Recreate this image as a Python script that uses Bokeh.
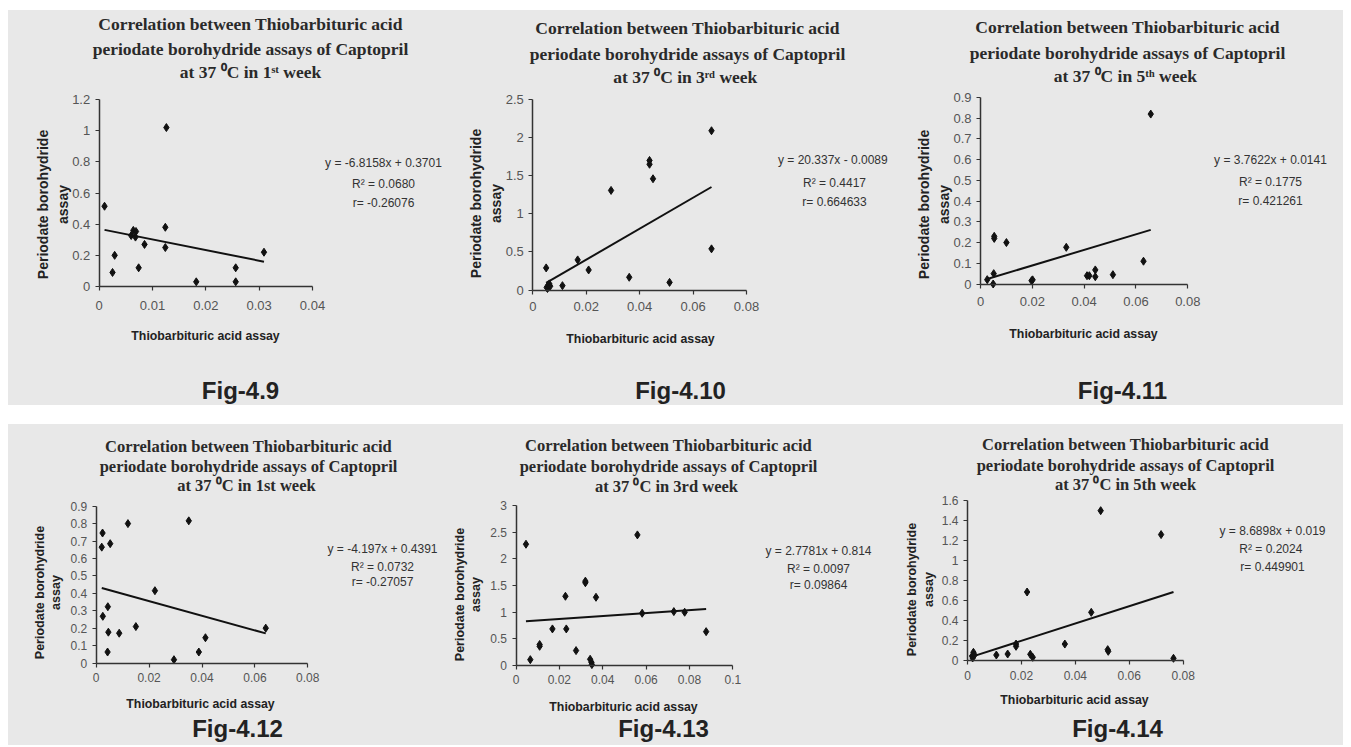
import numpy as np
from bokeh.plotting import figure
from bokeh.models import Range1d, FixedTicker, CustomJSTickFormatter, Spacer
from bokeh.layouts import row, column
from bokeh.core.properties import value
from bokeh.embed import file_html
from bokeh.resources import INLINE

# ---------------- data ----------------
x1 = [0.0010, 0.0126, 0.0029, 0.0025, 0.0060, 0.0064, 0.0069, 0.0068, 0.0074, 0.0085, 0.0124, 0.0124, 0.0182, 0.0256, 0.0256, 0.0309]
y1 = [0.515, 1.02, 0.20, 0.09, 0.327, 0.36, 0.353, 0.317, 0.12, 0.27, 0.38, 0.25, 0.03, 0.12, 0.03, 0.22]

x2 = [0.0050, 0.0052, 0.0055, 0.0059, 0.0062, 0.0065, 0.0111, 0.0168, 0.0209, 0.0293, 0.0361, 0.0437, 0.0437, 0.0450, 0.0512, 0.0669, 0.0669]
y2 = [0.29, 0.035, 0.02, 0.066, 0.08, 0.05, 0.057, 0.395, 0.263, 1.307, 0.167, 1.65, 1.70, 1.46, 0.10, 2.09, 0.54]

x3 = [0.0026, 0.0049, 0.0051, 0.0053, 0.0053, 0.0100, 0.0197, 0.0201, 0.0331, 0.0411, 0.0420, 0.0443, 0.0443, 0.0511, 0.0629, 0.0657]
y3 = [0.021, 0.0, 0.05, 0.23, 0.22, 0.20, 0.016, 0.02, 0.177, 0.04, 0.04, 0.068, 0.035, 0.045, 0.11, 0.82]

x4 = [0.0024, 0.0021, 0.0053, 0.0120, 0.0350, 0.0044, 0.0025, 0.0046, 0.0043, 0.0087, 0.0150, 0.0222, 0.0294, 0.0388, 0.0413, 0.0641]
y4 = [0.746, 0.665, 0.685, 0.80, 0.816, 0.323, 0.268, 0.177, 0.063, 0.171, 0.209, 0.415, 0.019, 0.063, 0.145, 0.20]

x5 = [0.0046, 0.0066, 0.0109, 0.0109, 0.0168, 0.0228, 0.0232, 0.0277, 0.0320, 0.0320, 0.0342, 0.0348, 0.0350, 0.0369, 0.0560, 0.0582, 0.0728, 0.0778, 0.0877]
y5 = [2.273, 0.106, 0.357, 0.39, 0.683, 1.296, 0.683, 0.276, 1.55, 1.58, 0.113, 0.056, 0.013, 1.277, 2.448, 0.977, 1.008, 0.996, 0.632]

x6 = [0.0017, 0.0019, 0.0022, 0.0026, 0.0107, 0.0149, 0.0180, 0.0180, 0.0221, 0.0233, 0.0242, 0.0361, 0.0459, 0.0494, 0.0520, 0.0522, 0.0718, 0.0764]
y6 = [0.04, 0.02, 0.077, 0.05, 0.05, 0.06, 0.137, 0.16, 0.682, 0.057, 0.027, 0.16, 0.478, 1.498, 0.104, 0.087, 1.258, 0.017]

slopes = [-6.8158, 20.337, 3.7622, -4.197, 2.7781, 8.6898]
intercepts = [0.3701, -0.0089, 0.0141, 0.4391, 0.814, 0.019]

x_ticks = [
    [0, 0.01, 0.02, 0.03, 0.04],
    [0, 0.02, 0.04, 0.06, 0.08],
    [0, 0.02, 0.04, 0.06, 0.08],
    [0, 0.02, 0.04, 0.06, 0.08],
    [0, 0.02, 0.04, 0.06, 0.08, 0.1],
    [0, 0.02, 0.04, 0.06, 0.08],
]
y_ticks = [
    [0, 0.2, 0.4, 0.6, 0.8, 1, 1.2],
    [0, 0.5, 1, 1.5, 2, 2.5],
    [0, 0.1, 0.2, 0.3, 0.4, 0.5, 0.6, 0.7, 0.8, 0.9],
    [0, 0.1, 0.2, 0.3, 0.4, 0.5, 0.6, 0.7, 0.8, 0.9],
    [0, 0.5, 1, 1.5, 2, 2.5, 3],
    [0, 0.2, 0.4, 0.6, 0.8, 1, 1.2, 1.4, 1.6],
]

title_line1 = "Correlation between Thiobarbituric acid"
title_line2 = "periodate borohydride assays of Captopril"
title_line3 = [
    "at 37 \u2070C in 1\u02e2\u1d57 week",
    "at 37 \u2070C in 3\u02b3\u1d48  week",
    "at 37 \u2070C in 5\u1d57\u02b0  week",
    "at 37 \u2070C in 1st  week",
    "at 37 \u2070C in 3rd  week",
    "at 37 \u2070C in 5th week",
]
eq_texts = ["y = -6.8158x + 0.3701", "y =  20.337x - 0.0089", "y = 3.7622x + 0.0141",
            "y = -4.197x + 0.4391", "y = 2.7781x + 0.814", "y = 8.6898x + 0.019"]
r2_texts = ["R\u00b2 = 0.0680", "R\u00b2 = 0.4417", "R\u00b2 = 0.1775",
            "R\u00b2 = 0.0732", "R\u00b2 = 0.0097", "R\u00b2 =  0.2024"]
r_texts = ["r= -0.26076", "r= 0.664633", "r= 0.421261", "r= -0.27057", "r= 0.09864", "r= 0.449901"]
fig_labels = ["Fig-4.9", "Fig-4.10", "Fig-4.11", "Fig-4.12", "Fig-4.13", "Fig-4.14"]
x_title = "Thiobarbituric acid assay"
y_title = "Periodate borohydride\nassay"

xs = [x1, x2, x3, x4, x5, x6]
ys = [y1, y2, y3, y4, y5, y6]

# ---------------- layout geometry (page pixels) ----------------
BG = "#e8e8e8"
TOP_H, BOT_H = 395, 321
fig_geo = [(8, 10, 442, TOP_H), (450, 10, 448, TOP_H), (898, 10, 445, TOP_H),
           (8, 424, 442, BOT_H), (450, 424, 448, BOT_H), (898, 424, 445, BOT_H)]
# pixel position of data origin (X0, Y0) and of (xmax, ymax) -> (X1, Y1)
axis_geo = [(98.7, 286.0, 312.0, 99.0), (532.3, 289.5, 746.0, 99.0), (980.0, 283.5, 1187.3, 97.0),
            (95.7, 662.5, 307.3, 505.7), (515.5, 664.8, 732.3, 505.0), (967.0, 659.5, 1182.7, 500.0)]
title_pos = [(250, (23, 48, 71)), (687, (27, 53, 76)), (1127, (26, 52, 75)),
             (248, (446, 466, 485)), (668, (445, 466, 486)), (1125, (444, 465, 484))]
eq_pos = [(383, (162, 183, 202)), (834, (159, 182, 201)), (1270, (159, 181, 200)),
          (382, (548, 566, 581)), (818, (550, 568, 584)), (1272, (530, 548, 566))]
xtitle_pos = [(205, 335), (640, 338), (1083, 333), (200, 703), (623, 706), (1074, 699)]
ytitle_pos = [(52.5, 204), (485.5, 203), (933.5, 204), (47.5, 592), (467.5, 594), (920, 589)]
figlab_pos = [(240, 390), (680, 390), (1122, 390), (237, 728), (663, 728), (1117, 728)]
xtick_standoff = [10, 8, 9, 6, 6, 7]


figs = []
for i in range(6):
    fx, fy, fw, fh = fig_geo[i]
    X0, Y0, X1, Y1 = axis_geo[i]
    xmax, ymax = x_ticks[i][-1], y_ticks[i][-1]
    kx = (X1 - X0) / xmax
    ky = (Y0 - Y1) / ymax

    def dx(X):
        return (X - X0) / kx

    def dy(Y):
        return (Y0 - Y) / ky

    top_row = i < 3
    p = figure(width=fw, height=fh, output_backend="svg", toolbar_location=None,
               x_range=Range1d(dx(fx), dx(fx + fw)), y_range=Range1d(dy(fy + fh), dy(fy)),
               min_border_left=0, min_border_right=0, min_border_top=0, min_border_bottom=0)
    p.background_fill_color = BG
    p.border_fill_color = BG
    p.outline_line_color = None
    p.grid.visible = False

    fmt = CustomJSTickFormatter(code="return String(parseFloat(tick.toFixed(4)));")
    for ax, ticks in ((p.xaxis[0], x_ticks[i]), (p.yaxis[0], y_ticks[i])):
        ax.ticker = FixedTicker(ticks=ticks)
        ax.formatter = fmt
        ax.fixed_location = 0
        ax.bounds = (0, ticks[-1])
        ax.minor_tick_line_color = None
        ax.major_tick_in = 0
        ax.major_tick_out = 4
        ax.axis_line_color = "#333333"
        ax.axis_line_width = 1.5
        ax.major_tick_line_color = "#333333"
        ax.major_tick_line_width = 1.2
        ax.major_label_text_font = "Liberation Sans"
        ax.major_label_text_font_size = "13px" if top_row else "12px"
        ax.major_label_text_color = "#555555"
    p.xaxis.major_label_standoff = xtick_standoff[i]
    p.yaxis.major_label_standoff = 5

    # regression line from the printed equation over the data's x span
    xl = np.array([min(xs[i]), max(xs[i])])
    p.line(xl, slopes[i] * xl + intercepts[i], line_color="#111111", line_width=2)
    p.scatter(xs[i], ys[i], marker="diamond", size=8, color="#111111")

    def put(X, Y, txt, size, font="Liberation Sans", style="normal", color="#333333", angle=0.0):
        p.text(x=[dx(X)], y=[dy(Y)], text=[txt], text_font=value(font), text_font_size=size,
               text_font_style=style, text_color=color, text_align="center",
               text_baseline="middle", angle=angle, text_line_height=1.2)

    tx, tys = title_pos[i]
    tsize = "17.5px" if top_row else "16.5px"
    for txt, ty in zip((title_line1, title_line2, title_line3[i]), tys):
        put(tx, ty, txt, tsize, font="Liberation Serif", style="bold", color="#2a2a2a")
    ex, eys = eq_pos[i]
    for txt, ey in zip((eq_texts[i], r2_texts[i], r_texts[i]), eys):
        put(ex, ey, txt, "12px", color="#333333")
    put(*xtitle_pos[i], x_title, "12.3px", style="bold", color="#222222")
    put(*ytitle_pos[i], y_title, "14px" if top_row else "12.5px", style="bold",
        color="#222222", angle=np.pi / 2)
    put(*figlab_pos[i], fig_labels[i], "24px", style="bold", color="#222222")
    figs.append(p)

top_band = row(*figs[:3], styles={"background-color": BG})
bottom_band = row(*figs[3:], styles={"background-color": BG})
layout = column(Spacer(width=1343, height=10),
                row(Spacer(width=8, height=TOP_H), top_band),
                Spacer(width=1343, height=19),
                row(Spacer(width=8, height=BOT_H), bottom_band))
open("out.html", "w").write(file_html(layout, INLINE))
